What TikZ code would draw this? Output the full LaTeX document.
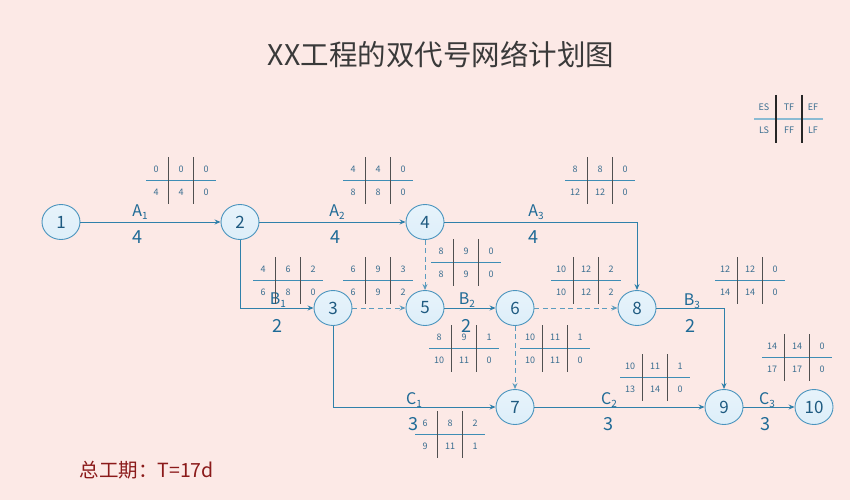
\documentclass[tikz,border=0pt]{standalone}
\usepackage{fontspec}
\setmainfont{Noto Sans CJK SC}
\usetikzlibrary{arrows.meta,shapes.geometric}
\definecolor{bgc}{HTML}{FCE9E6}
\definecolor{edgec}{HTML}{2F80AA}
\definecolor{dashc}{HTML}{5C9CBE}
\definecolor{nodefill}{HTML}{DDEEF9}
\definecolor{nodeline}{HTML}{4A94BE}
\definecolor{nodetext}{HTML}{1E5A80}
\definecolor{labc}{HTML}{1E6A96}
\definecolor{numc}{HTML}{3A6E90}
\definecolor{hlc}{HTML}{3E8DB5}
\definecolor{vlc}{HTML}{505050}
\definecolor{titlec}{HTML}{3A3A3A}
\definecolor{redc}{HTML}{8B1A1A}
\tikzset{
  evt/.style={ellipse, draw=nodeline, line width=0.9pt, inner sep=0pt,
    minimum width=38pt, minimum height=35pt,
    top color=nodefill!70!white, bottom color=nodefill, text=nodetext,
    font=\fontsize{17}{18}\selectfont},
  edge/.style={draw=edgec, line width=1pt, -{Stealth[length=6pt,width=5pt]}},
  dedge/.style={draw=dashc, line width=1pt, dash pattern=on 5pt off 3.5pt,
    -{Stealth[length=6pt,width=5pt]}},
  elab/.style={text=labc, inner sep=0pt, font=\fontsize{16}{17}\selectfont},
  edur/.style={text=labc, inner sep=0pt, font=\fontsize{18}{19}\selectfont},
  tpnum/.style={text=numc, inner sep=0pt, font=\fontsize{9}{10}\selectfont},
  hline/.style={draw=hlc, line width=1pt},
  vline/.style={draw=vlc, line width=1.2pt},
}
\newcommand\sbs[1]{\raisebox{-0.15em}{\fontsize{10}{11}\selectfont #1}}
% time-parameter cross: id, (x,y), six numbers
\def\tpc#1(#2,#3)#4#5#6#7#8#9{%
  \begin{scope}[shift={(#2,#3)}]
    \draw[hline] (-35,0) -- (35,0);
    \draw[vline] (-12.5,-23) -- (-12.5,24);
    \draw[vline] (12.5,-23) -- (12.5,24);
    \node[tpnum] (#1-1) at (-25,-11) {#4};
    \node[tpnum] (#1-2) at (0,-11) {#5};
    \node[tpnum] (#1-3) at (25,-11) {#6};
    \node[tpnum] (#1-4) at (-25,12) {#7};
    \node[tpnum] (#1-5) at (0,12) {#8};
    \node[tpnum] (#1-6) at (25,12) {#9};
  \end{scope}}
\begin{document}
\begin{tikzpicture}[x=1pt,y=-1pt]
\fill[bgc] (0,0) rectangle (850,500);
\useasboundingbox (0,0) rectangle (850,500);

\node[text=titlec, font=\fontsize{28.5}{31}\selectfont] (title) at (441,55) {XX工程的双代号网络计划图};
\node[text=redc, anchor=west, font=\fontsize{19.5}{21}\selectfont] (total) at (76,470) {总工期：T=17d};

% legend
\draw[draw=hlc!60!white, line width=2pt] (754,119) -- (823,119);
\draw[draw=black!85, line width=1.2pt] (776,95) -- (776,143);
\draw[draw=black!85, line width=1.2pt] (802,95) -- (802,143);
\node[tpnum] (lgES) at (764,107) {ES};
\node[tpnum] (lgTF) at (789,107) {TF};
\node[tpnum] (lgEF) at (813,107) {EF};
\node[tpnum] (lgLS) at (764,130) {LS};
\node[tpnum] (lgFF) at (789,130) {FF};
\node[tpnum] (lgLF) at (813,130) {LF};

% events
\node[evt] (n1) at (61,222) {1};
\node[evt] (n2) at (240,222) {2};
\node[evt] (n4) at (425,222) {4};
\node[evt] (n3) at (333,308) {3};
\node[evt] (n5) at (425,308) {5};
\node[evt] (n6) at (515,308) {6};
\node[evt] (n8) at (637,308) {8};
\node[evt] (n7) at (515,407) {7};
\node[evt] (n9) at (724,407) {9};
\node[evt] (n10) at (814,407) {10};

% activities
\draw[edge] (n1) -- (n2);
\draw[edge] (n2) -- (n4);
\draw[edge] (n4.east) -| (n8.north);
\draw[edge] (n2.south) |- (n3.west);
\draw[dedge] (n3) -- (n5);
\draw[dedge] (n4) -- (n5);
\draw[edge] (n5) -- (n6);
\draw[dedge] (n6) -- (n8);
\draw[dedge] (n6) -- (n7);
\draw[edge] (n3.south) |- (n7.west);
\draw[edge] (n8.east) -| (n9.north);
\draw[edge] (n7) -- (n9);
\draw[edge] (n9) -- (n10);

% labels
\node[elab] (lA1) at (140,212) {A\sbs{1}};
\node[edur] (dA1) at (137,237) {4};
\node[elab] (lA2) at (337,212) {A\sbs{2}};
\node[edur] (dA2) at (335,237) {4};
\node[elab] (lA3) at (536,212) {A\sbs{3}};
\node[edur] (dA3) at (533,237) {4};
\node[elab] (lB1) at (278,300) {B\sbs{1}};
\node[edur] (dB1) at (277,326) {2};
\node[elab] (lB2) at (467,300) {B\sbs{2}};
\node[edur] (dB2) at (466,326) {2};
\node[elab] (lB3) at (692,301) {B\sbs{3}};
\node[edur] (dB3) at (690,326) {2};
\node[elab] (lC1) at (414,400) {C\sbs{1}};
\node[edur] (dC1) at (413,424) {3};
\node[elab] (lC2) at (609,400) {C\sbs{2}};
\node[edur] (dC2) at (608,424) {3};
\node[elab] (lC3) at (767,400) {C\sbs{3}};
\node[edur] (dC3) at (765,424) {3};

% time parameters
\tpc{tA1}(181,180){0}{0}{0}{4}{4}{0}
\tpc{tA2}(378,180){4}{4}{0}{8}{8}{0}
\tpc{tA3}(600,180){8}{8}{0}{12}{12}{0}
\tpc{tB1}(288,280){4}{6}{2}{6}{8}{0}
\tpc{t35}(378,280){6}{9}{3}{6}{9}{2}
\tpc{t45}(466,262){8}{9}{0}{8}{9}{0}
\tpc{t68}(586,280){10}{12}{2}{10}{12}{2}
\tpc{tB3}(750,280){12}{12}{0}{14}{14}{0}
\tpc{tB2}(464,348){8}{9}{1}{10}{11}{0}
\tpc{t67}(555,348){10}{11}{1}{10}{11}{0}
\tpc{tC1}(450,434){6}{8}{2}{9}{11}{1}
\tpc{tC2}(655,377){10}{11}{1}{13}{14}{0}
\tpc{tC3}(797,357){14}{14}{0}{17}{17}{0}
\end{tikzpicture}
\end{document}
